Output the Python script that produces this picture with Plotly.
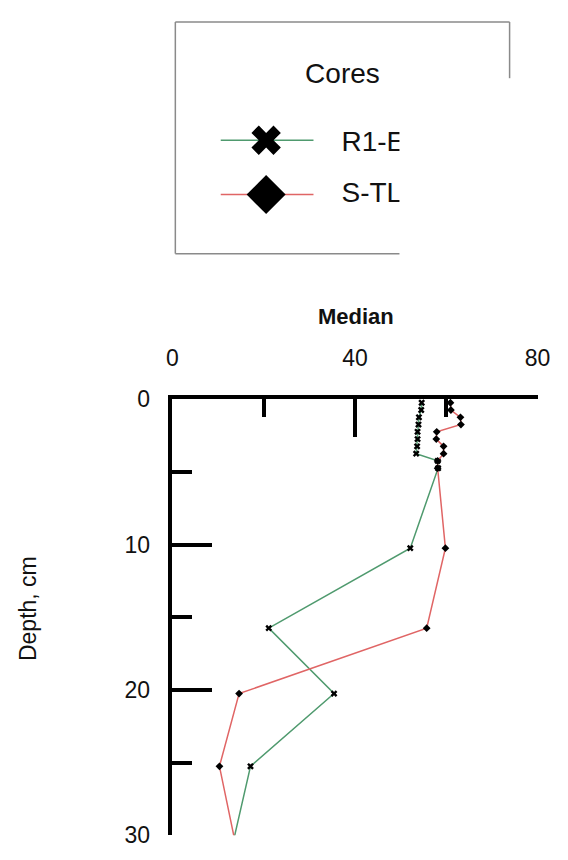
import plotly.graph_objects as go

# The page body has an 8px margin, so the figure is sized to fill the
# remaining 560x852 area of the 568x860 window.
OFF = 8
W, H = 568 - OFF, 860 - OFF

# ---- data ----
r1e_depth = [0.25, 0.75, 1.25, 1.75, 2.25, 2.75, 3.25, 3.75, 4.25, 4.75, 10.25, 15.75, 20.25, 25.25, 30.2]
r1e_median = [54.6, 54.5, 54.0, 53.9, 53.7, 53.7, 53.6, 53.4, 58.1, 58.2, 52.1, 21.1, 35.4, 17.1, 13.5]

stl_depth = [0.25, 0.75, 1.25, 1.75, 2.25, 2.75, 3.25, 3.75, 4.25, 4.75, 10.25, 15.75, 20.25, 25.25, 30.1]
stl_median = [60.9, 61.0, 63.1, 63.2, 57.9, 57.8, 59.4, 59.4, 58.1, 58.1, 59.8, 55.7, 14.6, 10.3, 13.5]

series_names = ["R1-E", "S-TL"]
x_ticks = [0, 40, 80]
y_ticks = [0, 10, 20, 30]

GREEN = "#4f9a6e"
RED = "#e06565"
FONT = "Liberation Sans, Arial, sans-serif"

def px_x(p):
    return min(max((p - OFF) / W, 0), 1)

def px_y(p):
    return min(max(1 - (p - OFF) / H, 0), 1)

fig = go.Figure()

# main data traces
fig.add_trace(go.Scatter(
    x=r1e_median, y=r1e_depth, mode="lines+markers", name=series_names[0],
    line=dict(color=GREEN, width=1.5),
    marker=dict(symbol="x", size=6, color="black"),
    cliponaxis=False, showlegend=False))
fig.add_trace(go.Scatter(
    x=stl_median, y=stl_depth, mode="lines+markers", name=series_names[1],
    line=dict(color=RED, width=1.5),
    marker=dict(symbol="diamond", size=6, color="black"),
    cliponaxis=False, showlegend=False))

# ---- custom (clipped) legend drawn in an auxiliary subplot ----
LEG_L, LEG_R, LEG_T, LEG_B = 175, 407, 8, 248
fig.add_trace(go.Scatter(
    x=[222, 318], y=[131, 131], mode="lines", line=dict(color=GREEN, width=1.5),
    xaxis="x2", yaxis="y2", showlegend=False, hoverinfo="skip"))
fig.add_trace(go.Scatter(
    x=[269], y=[131], mode="markers", marker=dict(symbol="x", size=26, color="black"),
    xaxis="x2", yaxis="y2", showlegend=False, hoverinfo="skip"))
fig.add_trace(go.Scatter(
    x=[222, 318], y=[187, 187], mode="lines", line=dict(color=RED, width=1.5),
    xaxis="x2", yaxis="y2", showlegend=False, hoverinfo="skip"))
fig.add_trace(go.Scatter(
    x=[269], y=[187], mode="markers", marker=dict(symbol="diamond", size=30, color="black"),
    xaxis="x2", yaxis="y2", showlegend=False, hoverinfo="skip"))
fig.add_trace(go.Scatter(
    x=[347, 347], y=[135, 187], mode="text", text=series_names,
    textposition="middle right", textfont=dict(family=FONT, size=28, color="#111"),
    xaxis="x2", yaxis="y2", showlegend=False, hoverinfo="skip", cliponaxis=True))
fig.add_trace(go.Scatter(
    x=[348], y=[65], mode="text", text=["Cores"],
    textposition="middle center", textfont=dict(family=FONT, size=28, color="#111"),
    xaxis="x2", yaxis="y2", showlegend=False, hoverinfo="skip", cliponaxis=True))

# legend box borders
BOX = "#8a8a8a"
shapes = [
    dict(type="line", xref="paper", yref="paper", x0=px_x(175), x1=px_x(521), y0=px_y(9), y1=px_y(9),
         line=dict(color=BOX, width=1.5)),
    dict(type="line", xref="paper", yref="paper", x0=px_x(175), x1=px_x(175), y0=px_y(9), y1=px_y(248),
         line=dict(color=BOX, width=1.5)),
    dict(type="line", xref="paper", yref="paper", x0=px_x(175), x1=px_x(407), y0=px_y(248), y1=px_y(248),
         line=dict(color=BOX, width=1.5)),
    dict(type="line", xref="paper", yref="paper", x0=px_x(521), x1=px_x(521), y0=px_y(9), y1=px_y(67),
         line=dict(color=BOX, width=1.5)),
]

fig.update_layout(
    width=W, height=H,
    margin=dict(l=0, r=0, t=0, b=0),
    paper_bgcolor="white", plot_bgcolor="white",
    font=dict(family=FONT, color="#111"),
    shapes=shapes,
    xaxis=dict(
        domain=[px_x(172), px_x(550)], range=[0, 80], side="top",
        showgrid=False, zeroline=False, showline=True, linecolor="black", linewidth=3.5,
        ticks="inside", ticklen=38, tickwidth=3.5, tickcolor="black",
        tickvals=x_ticks, ticklabeloverflow="allow",
        minor=dict(ticks="inside", ticklen=18, tickwidth=3.5, tickcolor="black", tick0=0, dtick=20),
        tickfont=dict(family=FONT, size=23, color="#111"),
        ticklabelstandoff=20,
    ),
    yaxis=dict(
        domain=[px_y(848), px_y(398)], range=[30, 0],
        showgrid=False, zeroline=False, showline=True, linecolor="black", linewidth=3.5,
        ticks="inside", ticklen=40, tickwidth=3.5, tickcolor="black",
        tickvals=y_ticks, ticklabeloverflow="allow",
        minor=dict(ticks="inside", ticklen=20, tickwidth=3.5, tickcolor="black", tick0=0, dtick=5),
        tickfont=dict(family=FONT, size=23, color="#111"),
        ticklabelstandoff=14,
    ),
    xaxis2=dict(domain=[px_x(LEG_L), px_x(LEG_R)], range=[LEG_L, LEG_R], visible=False, anchor="y2"),
    yaxis2=dict(domain=[px_y(LEG_B), px_y(LEG_T)], range=[LEG_B, LEG_T], visible=False, anchor="x2"),
    annotations=[
        dict(text="<b>Median</b>", xref="paper", yref="paper", x=px_x(362), y=px_y(313),
             showarrow=False, font=dict(family=FONT, size=22, color="#111"),
             xanchor="center", yanchor="middle"),
        dict(text="Depth, cm", xref="paper", yref="paper", x=px_x(22), y=px_y(614),
             showarrow=False, textangle=-90, font=dict(family=FONT, size=23, color="#111"),
             xanchor="center", yanchor="middle"),
    ],
)

fig.write_html("out.html", config={"displayModeBar": False})
